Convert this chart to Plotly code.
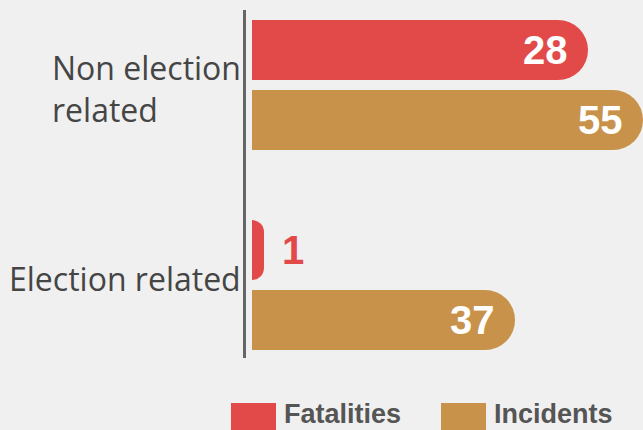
import plotly.graph_objects as go

categories = ["Election related", "Non election related"]
category_labels = ["Election related", "Non election<br>related"]
label_yshift = [7, -3]
series_names = ["Fatalities", "Incidents"]
fatalities = [1, 28]
incidents = [37, 55]
colors = ["#e24a4a", "#c8924a"]

BG = "#f0f0f0"
fig = go.Figure()

series = [fatalities, incidents]
axes = ["x", "x2"]
offsets = [0.025, -0.325]
width = 0.3

for name, vals, col, ax, off in zip(series_names, series, colors, axes, offsets):
    fig.add_trace(go.Bar(
        y=categories, x=vals, orientation="h", name=name,
        marker=dict(color=col, cornerradius=30, line=dict(width=0)),
        offset=off, width=width, xaxis=ax, yaxis="y",
        showlegend=False, hoverinfo="skip",
    ))

annotations = []
for vals, col, ax, off in zip(series, colors, axes, offsets):
    for i, v in enumerate(vals):
        yc = i + off + width / 2
        if v >= 5:
            annotations.append(dict(
                x=v, y=yc, xref=ax, yref="y", text=str(v), showarrow=False,
                xanchor="right", yanchor="middle", xshift=-18,
                font=dict(family="Liberation Sans", size=40, color="white", weight="bold"),
            ))
        else:
            annotations.append(dict(
                x=v, y=yc, xref=ax, yref="y", text=str(v), showarrow=False,
                xanchor="left", yanchor="middle", xshift=16,
                font=dict(family="Liberation Sans", size=40, color=col, weight="bold"),
            ))

for i, (lab, ys) in enumerate(zip(category_labels, label_yshift)):
    annotations.append(dict(
        x=0, y=i, xref="paper", yref="y", text=lab, showarrow=False,
        xanchor="right", yanchor="middle", align="left", xshift=-3, yshift=ys,
        font=dict(family="Open Sans", size=32, color="#454545"),
    ))

# custom legend
leg_x = [-0.0378, 0.4912]
sq_w = 0.1134
for name, col, lx in zip(series_names, colors, leg_x):
    fig.add_shape(type="rect", xref="paper", yref="paper",
                  x0=lx, x1=lx + sq_w, y0=-0.2126, y1=-0.1293,
                  fillcolor=col, line=dict(width=0), layer="above")
    annotations.append(dict(
        x=lx + sq_w + 0.015, y=-0.160, xref="paper", yref="paper", text=name,
        showarrow=False, xanchor="left", yanchor="middle",
        font=dict(family="Liberation Sans", size=27, color="#555555", weight="bold"),
    ))

fig.update_layout(
    width=643, height=430,
    margin=dict(l=246, r=0, t=10, b=72),
    paper_bgcolor=BG, plot_bgcolor=BG,
    barmode="overlay",
    xaxis=dict(range=[-0.5, 32.58], visible=False, showgrid=False, zeroline=False),
    xaxis2=dict(range=[-0.844, 55.0], visible=False, overlaying="x", showgrid=False, zeroline=False),
    yaxis=dict(type="category", categoryorder="array", categoryarray=categories,
               range=[-0.365, 1.375], showticklabels=False, showgrid=False, zeroline=False,
               showline=True, linecolor="#666666", linewidth=3, ticks=""),
    annotations=annotations,
)

fig.write_html("out.html")
